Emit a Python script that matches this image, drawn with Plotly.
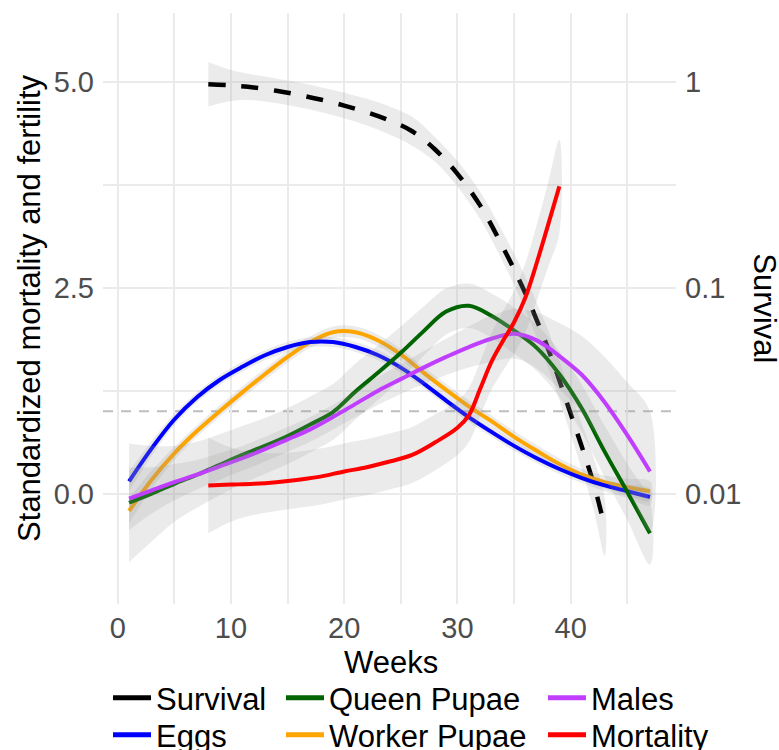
import plotly.graph_objects as go
import numpy as np

# ---------------- data ----------------
weeks = [1, 3, 5, 7, 9, 11, 13, 15, 17, 19, 21, 23, 25, 27, 29, 31, 33, 35, 37, 39, 41, 43, 45, 47]

eggs = [0.15, 0.55, 0.90, 1.17, 1.38, 1.54, 1.68, 1.78, 1.84, 1.84, 1.78, 1.68, 1.53, 1.34,
        1.13, 0.93, 0.75, 0.58, 0.43, 0.30, 0.19, 0.10, 0.03, -0.04]
eggs_se = [0.12, 0.09, 0.07, 0.06, 0.06, 0.06, 0.06, 0.06, 0.06, 0.06, 0.06, 0.06, 0.06, 0.06,
           0.06, 0.06, 0.06, 0.06, 0.06, 0.06, 0.06, 0.07, 0.08, 0.10]

worker = [-0.21, 0.17, 0.49, 0.76, 1.00, 1.23, 1.45, 1.66, 1.84, 1.96, 1.96, 1.86, 1.69, 1.47,
          1.26, 1.06, 0.88, 0.69, 0.52, 0.36, 0.23, 0.14, 0.08, 0.03]
worker_se = [0.15, 0.11, 0.08, 0.07, 0.07, 0.07, 0.07, 0.07, 0.07, 0.07, 0.07, 0.07, 0.07, 0.07,
             0.07, 0.07, 0.07, 0.07, 0.07, 0.07, 0.07, 0.08, 0.10, 0.12]

queen = [-0.11, 0.00, 0.12, 0.23, 0.35, 0.47, 0.58, 0.70, 0.84, 0.99, 1.24, 1.47, 1.71, 1.97,
         2.21, 2.28, 2.16, 1.98, 1.77, 1.45, 1.03, 0.51, 0.02, -0.48]
queen_se = [0.72, 0.58, 0.46, 0.40, 0.37, 0.35, 0.34, 0.34, 0.34, 0.34, 0.34, 0.33, 0.32, 0.30,
            0.28, 0.27, 0.27, 0.28, 0.28, 0.28, 0.29, 0.31, 0.34, 0.38]

males = [-0.06, 0.04, 0.14, 0.23, 0.33, 0.43, 0.54, 0.66, 0.78, 0.93, 1.09, 1.25, 1.39, 1.53,
         1.66, 1.78, 1.88, 1.94, 1.86, 1.67, 1.44, 1.11, 0.71, 0.27]
males_se = [0.38, 0.28, 0.22, 0.18, 0.16, 0.15, 0.15, 0.15, 0.15, 0.15, 0.16, 0.17, 0.18, 0.20,
            0.22, 0.25, 0.28, 0.30, 0.34, 0.40, 0.47, 0.55, 0.64, 0.73]

mort_weeks = [8, 10, 12, 14, 16, 18, 20, 22, 24, 26, 28, 30, 31, 32, 33, 34, 35, 36, 37, 38, 39]
mortality = [0.10, 0.11, 0.12, 0.14, 0.17, 0.21, 0.27, 0.32, 0.39, 0.47, 0.62, 0.80, 0.95, 1.27,
             1.60, 1.85, 2.08, 2.38, 2.80, 3.26, 3.73]
mortality_se = [0.58, 0.45, 0.38, 0.35, 0.34, 0.34, 0.34, 0.34, 0.34, 0.34, 0.34, 0.33, 0.33, 0.33,
                0.34, 0.36, 0.38, 0.42, 0.46, 0.51, 0.57]

surv_weeks = [8, 10, 12, 14, 16, 18, 20, 22, 24, 26, 28, 30, 32, 34, 36, 38, 40, 42, 43]
survival = [0.973, 0.959, 0.938, 0.904, 0.863, 0.817, 0.766, 0.711, 0.649, 0.575, 0.470, 0.357,
            0.251, 0.158, 0.0938, 0.0506, 0.0244, 0.0113, 0.0069]
survival_se_log10 = [0.108, 0.075, 0.062, 0.060, 0.060, 0.060, 0.062, 0.065, 0.068, 0.070, 0.060,
                     0.062, 0.066, 0.072, 0.080, 0.090, 0.100, 0.125, 0.140]

ref_line = 1.0
x_ticks = [0, 10, 20, 30, 40]
x_minor = [5, 15, 25, 35, 45]
y_ticks = [0, 2.5, 5]
y_ticklabels = ["0.0", "2.5", "5.0"]
y_minor = [1.25, 3.75]
surv_ticks = [0.01, 0.1, 1]
surv_ticklabels = ["0.01", "0.1", "1"]

# secondary-axis mapping (survival -> primary scale), like ggplot sec_axis
SURV_A, SURV_B = 5.0, 2.5

X_RANGE = [-1.3, 49.3]
Y_RANGE = [-1.339, 5.834]

FONT = "Liberation Sans, Arial, Helvetica, sans-serif"
BAND = "rgba(153,153,153,0.2)"

fig = go.Figure()


def to_primary(s):
    return [SURV_A + SURV_B * np.log10(v) for v in s]


def add_smooth(x, y, se, color, dash=None, width=4):
    x = list(x)
    up = [a + b for a, b in zip(y, se)]
    lo = [a - b for a, b in zip(y, se)]
    fig.add_trace(go.Scatter(x=x + x[::-1], y=up + lo[::-1], fill="toself", fillcolor=BAND,
                             mode="lines", line=dict(width=0, shape="spline", smoothing=1),
                             hoverinfo="skip", showlegend=False))
    fig.add_trace(go.Scatter(x=x, y=y, mode="lines", showlegend=False,
                             line=dict(color=color, width=width, shape="spline", smoothing=1, dash=dash)))


# survival (secondary log axis, mapped to primary)
s_up = [v * 10 ** h for v, h in zip(survival, survival_se_log10)]
s_y = to_primary(survival)
s_up_y = to_primary(s_up)
add_smooth(surv_weeks, s_y, [u - m for u, m in zip(s_up_y, s_y)], "black", dash="17px,16px", width=4.5)

add_smooth(weeks, worker, worker_se, "#FFA500")
add_smooth(weeks, eggs, eggs_se, "#0000FF")
add_smooth(weeks, queen, queen_se, "#006400")
add_smooth(weeks, males, males_se, "#BF3EFF")
add_smooth(mort_weeks, mortality, mortality_se, "#FF0000")

# anchor for the secondary axis (invisible)
fig.add_trace(go.Scatter(x=surv_weeks, y=survival, yaxis="y2", mode="lines",
                         line=dict(width=0, color="rgba(0,0,0,0)"), hoverinfo="skip", showlegend=False))

# legend entries (6 single-item legends to mimic ggplot's 3x2 column layout)
legend_items = [("Survival", "black"), ("Eggs", "#0000FF"), ("Queen Pupae", "#006400"),
                ("Worker Pupae", "#FFA500"), ("Males", "#BF3EFF"), ("Mortality", "#FF0000")]
col_x = [108, 281, 543]
row_y = [698, 735]
legend_layout = {}
for i, (name, col) in enumerate(legend_items):
    key = "legend" if i == 0 else f"legend{i + 1}"
    fig.add_trace(go.Scatter(x=[None], y=[None], mode="lines", name=name,
                             line=dict(color=col, width=5), legend=key))
    c, r = divmod(i, 2)
    legend_layout[key] = dict(x=col_x[c] / 779, y=1 - row_y[r] / 750, xref="container", yref="container",
                              xanchor="left", yanchor="middle", bgcolor="rgba(0,0,0,0)",
                              font=dict(family=FONT, size=31, color="black"), itemwidth=38)

fig.add_shape(type="line", xref="paper", x0=0, x1=1, yref="y", y0=ref_line, y1=ref_line,
              line=dict(color="#bebebe", width=2, dash="10px,8px"), layer="below")

grid = "#ebebeb"
fig.update_layout(
    width=779, height=750,
    margin=dict(l=102.6, r=103.3, t=13.3, b=145.7, pad=0, autoexpand=False),
    paper_bgcolor="white", plot_bgcolor="white",
    font=dict(family=FONT, color="black"),
    xaxis=dict(range=X_RANGE, tickmode="array", tickvals=x_ticks, ticks="", showline=False,
               zeroline=False, showgrid=True, gridcolor=grid, gridwidth=2, automargin=False,
               tickfont=dict(size=29, color="#4d4d4d"), ticklabelstandoff=4,
               minor=dict(tickmode="array", tickvals=x_minor, showgrid=True, gridcolor=grid, gridwidth=1.6)),
    yaxis=dict(range=Y_RANGE, tickmode="array", tickvals=y_ticks, ticktext=y_ticklabels, ticks="",
               showline=False, zeroline=False, showgrid=True, gridcolor=grid, gridwidth=2, automargin=False,
               tickfont=dict(size=29, color="#4d4d4d"), ticklabelstandoff=8,
               minor=dict(tickmode="array", tickvals=y_minor, showgrid=True, gridcolor=grid, gridwidth=1.6)),
    yaxis2=dict(type="log", overlaying="y", side="right", automargin=False,
                range=[(Y_RANGE[0] - SURV_A) / SURV_B, (Y_RANGE[1] - SURV_A) / SURV_B],
                tickmode="array", tickvals=surv_ticks, ticktext=surv_ticklabels, ticks="",
                showgrid=False, zeroline=False, showline=False,
                tickfont=dict(size=29, color="#4d4d4d"), ticklabelstandoff=8),
    showlegend=True,
    annotations=[
        dict(text="Weeks", xref="paper", yref="paper", x=0.503, y=(604.3 - 663) / 591,
             xanchor="center", yanchor="middle", showarrow=False, font=dict(size=31, color="black")),
        dict(text="Standardized mortality and fertility", xref="paper", yref="paper",
             x=(29 - 102.6) / 573.1, y=0.5, textangle=-90, xanchor="center", yanchor="middle",
             showarrow=False, font=dict(size=31, color="black")),
        dict(text="Survival", xref="paper", yref="paper", x=(764 - 102.6) / 573.1, y=0.5,
             textangle=90, xanchor="center", yanchor="middle", showarrow=False,
             font=dict(size=31, color="black")),
    ],
    **legend_layout,
)

fig.write_html("out.html")
